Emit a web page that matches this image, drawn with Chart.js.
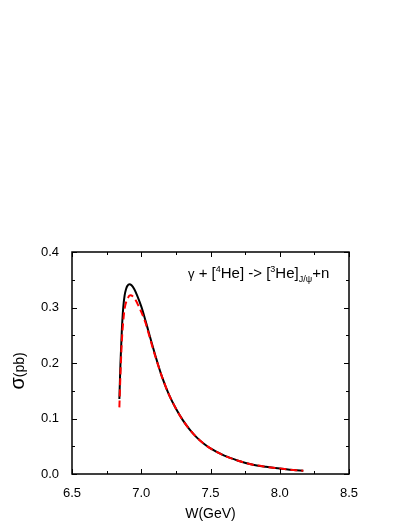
<!DOCTYPE html>
<html>
<head>
<meta charset="utf-8">
<script src="https://cdn.jsdelivr.net/npm/chart.js@4"></script>
<style>
    html, body { margin: 0; padding: 0; background: #fff; }
    #wrap { width: 407px; height: 527px; }
</style>
</head>
<body>
<div id="wrap"><canvas id="myChart"></canvas></div>
<script>
// data
const W_BLACK = [6.842, 6.845, 6.85, 6.86, 6.87, 6.88, 6.89, 6.9, 6.915, 6.93, 6.95, 6.97, 7.0, 7.03, 7.05, 7.1, 7.15, 7.2, 7.25, 7.3, 7.35, 7.4, 7.45, 7.5, 7.6, 7.7, 7.8, 7.9, 8.0, 8.1, 8.17];
const SIGMA_BLACK = [0.135, 0.16, 0.2, 0.26, 0.3, 0.322, 0.333, 0.339, 0.342, 0.340, 0.333, 0.322, 0.302, 0.277, 0.259, 0.215, 0.175, 0.143, 0.118, 0.097, 0.080, 0.066, 0.055, 0.046, 0.033, 0.024, 0.017, 0.013, 0.010, 0.007, 0.006];

const W_RED = [6.842, 6.85, 6.86, 6.87, 6.88, 6.9, 6.92, 6.94, 6.96, 6.98, 7.0, 7.03, 7.05, 7.1, 7.15, 7.2, 7.25, 7.3, 7.35, 7.4, 7.45, 7.5, 7.6, 7.7, 7.8, 7.9, 8.0, 8.1, 8.17];
const SIGMA_RED = [0.12, 0.18, 0.24, 0.275, 0.298, 0.315, 0.322, 0.320, 0.313, 0.303, 0.292, 0.273, 0.256, 0.213, 0.175, 0.143, 0.118, 0.097, 0.080, 0.066, 0.055, 0.046, 0.033, 0.024, 0.017, 0.013, 0.010, 0.007, 0.006];

const X_MIN = 6.5, X_MAX = 8.5, X_STEP = 0.5;
const Y_MIN = 0, Y_MAX = 0.4, Y_STEP = 0.1;

const FONT = 'Liberation Sans, Arial, sans-serif';

function toPoints(xs, ys) {
    return xs.map((x, i) => ({ x: x, y: ys[i] }));
}

// frame, inside ticks on all four sides, axis titles and the reaction label
const framePlugin = {
    id: 'frame',
    afterDraw(chart) {
        const ctx = chart.ctx;
        const a = chart.chartArea;
        const xs = chart.scales.x, ys = chart.scales.y;
        ctx.save();
        ctx.strokeStyle = '#000';
        ctx.lineWidth = 1.5;
        ctx.strokeRect(a.left, a.top, a.right - a.left, a.bottom - a.top);

        ctx.lineWidth = 1;
        ctx.beginPath();
        for (let i = 0; i <= (X_MAX - X_MIN) / (X_STEP / 2); i++) {
            const v = X_MIN + i * X_STEP / 2;
            const px = Math.round(xs.getPixelForValue(v)) + 0.5;
            const len = i % 2 === 0 ? 5 : 3;
            ctx.moveTo(px, a.bottom); ctx.lineTo(px, a.bottom - len);
            ctx.moveTo(px, a.top); ctx.lineTo(px, a.top + len);
        }
        for (let i = 0; i <= (Y_MAX - Y_MIN) / (Y_STEP / 2); i++) {
            const v = Y_MIN + i * Y_STEP / 2;
            const py = Math.round(ys.getPixelForValue(v)) + 0.5;
            const len = i % 2 === 0 ? 5 : 3;
            ctx.moveTo(a.left, py); ctx.lineTo(a.left + len, py);
            ctx.moveTo(a.right, py); ctx.lineTo(a.right - len, py);
        }
        ctx.stroke();

        // y title: sigma(pb)
        ctx.fillStyle = '#000';
        ctx.translate(24, (a.top + a.bottom) / 2 + 8);
        ctx.rotate(-Math.PI / 2);
        ctx.textBaseline = 'alphabetic';
        ctx.textAlign = 'left';
        ctx.font = '20px ' + FONT;
        const sw = ctx.measureText('\u03c3').width;
        ctx.font = '14px ' + FONT;
        const pw = ctx.measureText('(pb)').width;
        const start = -(sw + pw) / 2;
        ctx.font = '20px ' + FONT;
        ctx.fillText('\u03c3', start, 0);
        ctx.font = '14px ' + FONT;
        ctx.fillText('(pb)', start + sw, 0);
        ctx.setTransform(1, 0, 0, 1, 0, 0);

        // reaction label
        let x = 188;
        const base = 278;
        const parts = [
            ['\u03b3', 13, 0],
            [' + [', 15, 0],
            ['4', 9, -6],
            ['He] -> [', 15, 0],
            ['3', 9, -6],
            ['He]', 15, 0],
            ['J/\u03c8', 9, 4],
            ['+n', 15, 0]
        ];
        parts.forEach(p => {
            ctx.font = p[1] + 'px ' + FONT;
            ctx.fillText(p[0], x, base + p[2]);
            x += ctx.measureText(p[0]).width;
        });
        ctx.restore();
    }
};

new Chart(document.getElementById('myChart'), {
    type: 'line',
    data: {
        datasets: [{
            data: toPoints(W_BLACK, SIGMA_BLACK),
            borderColor: '#000',
            borderWidth: 2,
            pointRadius: 0,
            order: 2,
            cubicInterpolationMode: 'monotone'
        }, {
            data: toPoints(W_RED, SIGMA_RED),
            borderColor: '#ff0000',
            borderWidth: 2,
            borderDash: [7, 4],
            pointRadius: 0,
            order: 1,
            cubicInterpolationMode: 'monotone'
        }]
    },
    options: {
        responsive: true,
        maintainAspectRatio: false,
        animation: false,
        plugins: { legend: { display: false }, tooltip: { enabled: false } },
        layout: { padding: { top: 252, right: 58, left: 0, bottom: 0 } },
        scales: {
            x: {
                type: 'linear',
                min: X_MIN,
                max: X_MAX,
                grid: { display: false },
                border: { display: false },
                ticks: {
                    stepSize: X_STEP,
                    padding: 4,
                    color: '#000',
                    font: { family: FONT, size: 13 },
                    callback: v => v.toFixed(1)
                },
                title: {
                    display: true,
                    text: 'W(GeV)',
                    color: '#000',
                    font: { family: FONT, size: 14 },
                    padding: { top: 2 }
                },
                afterFit(scale) { scale.height = 53; }
            },
            y: {
                min: Y_MIN,
                max: Y_MAX,
                grid: { display: false },
                border: { display: false },
                ticks: {
                    stepSize: Y_STEP,
                    padding: 5,
                    color: '#000',
                    font: { family: FONT, size: 13 },
                    callback: v => v.toFixed(1)
                },
                afterFit(scale) { scale.width = 72; }
            }
        }
    },
    plugins: [framePlugin]
});
</script>
</body>
</html>
